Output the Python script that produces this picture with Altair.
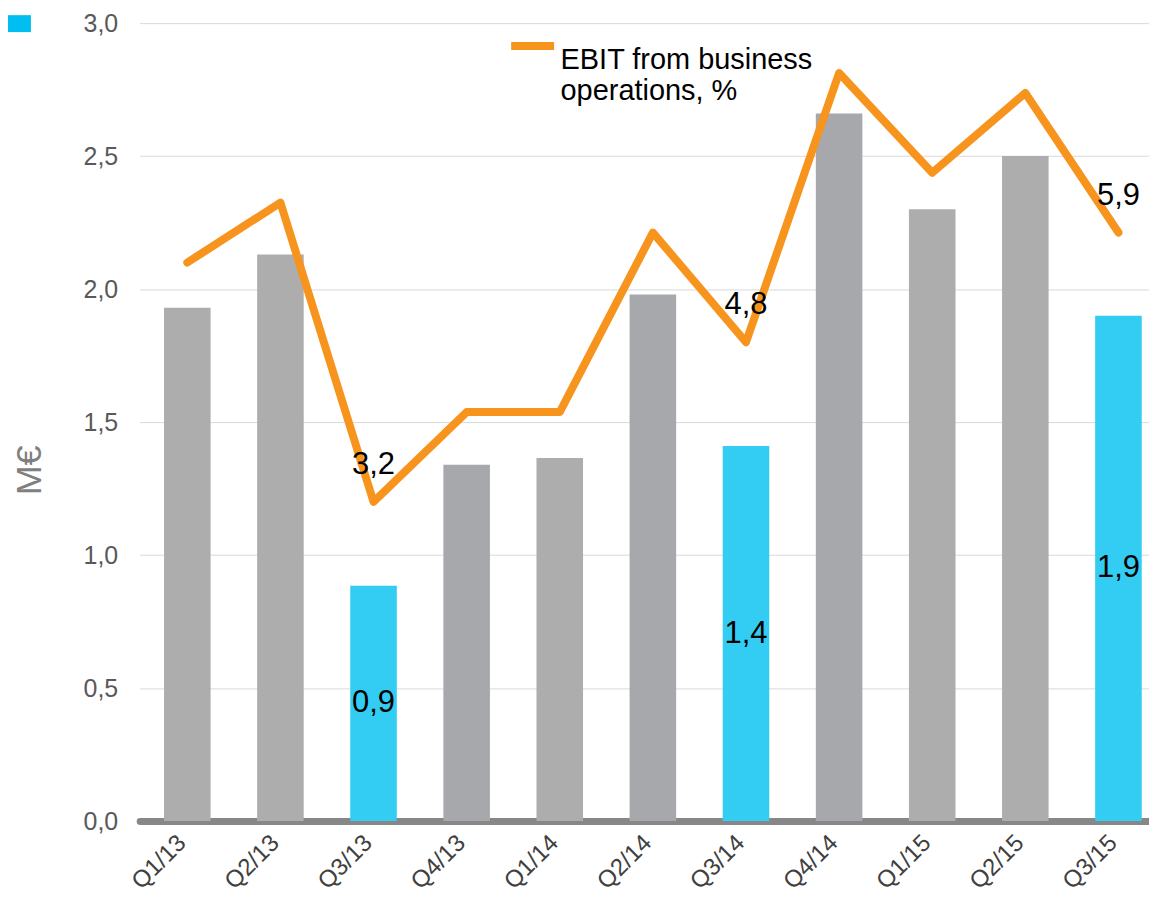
import altair as alt
import pandas as pd

quarters = ["Q1/13", "Q2/13", "Q3/13", "Q4/13", "Q1/14", "Q2/14",
            "Q3/14", "Q4/14", "Q1/15", "Q2/15", "Q3/15"]
ebit_meur = [1.93, 2.13, 0.885, 1.34, 1.365, 1.98, 1.41, 2.66, 2.30, 2.50, 1.90]
ebit_pct = [5.6, 6.2, 3.2, 4.1, 4.1, 5.9, 4.8, 7.5, 6.5, 7.3, 5.9]
bar_colors = ["#ADADAD", "#ADADAD", "#33CCF2", "#A7A8AC", "#ADADAD", "#A7A8AC",
              "#33CCF2", "#A7A8AC", "#ADADAD", "#ADADAD", "#33CCF2"]
bar_labels = ["", "", "0,9", "", "", "", "1,4", "", "", "", "1,9"]
pct_labels = ["", "", "3,2", "", "", "", "4,8", "", "", "", "5,9"]
series_name = "EBIT from business operations, %"

df = pd.DataFrame({
    "quarter": quarters,
    "meur": ebit_meur,
    "pct": ebit_pct,
    "color": bar_colors,
    "bar_label": bar_labels,
    "pct_label": pct_labels,
    "series": series_name,
})

FONT = "Liberation Sans"

xscale = alt.Scale(domain=quarters, paddingInner=0.5, paddingOuter=0.17, align=0.77)
x_axis = alt.Axis(
    title=None, labelAngle=-45, labelAlign="right", labelBaseline="middle",
    labelFontSize=24, labelColor="#404040", labelFont=FONT,
    ticks=False, grid=False, domain=True, domainColor="#878787", domainWidth=7,
    domainCap="round", labelPadding=18, labelOffset=-5,
)
y_left = alt.Scale(domain=[0, 3], nice=False, zero=True)
y_right = alt.Scale(domain=[0, 8], nice=False, zero=True)

y_axis = alt.Axis(
    title="M€", titleFontSize=36, titleColor="#7F7F7F", titleFont=FONT,
    titleFontWeight="normal", titleX=-110, titleY=448,
    values=[0, 0.5, 1, 1.5, 2, 2.5, 3],
    labelExpr="replace(format(datum.value, '.1f'), '.', ',')",
    labelFontSize=25, labelColor="#595959", labelFont=FONT, labelPadding=22,
    ticks=False, domain=False, grid=True, gridColor="#D9D9D9", gridWidth=1,
)

X = alt.X("quarter:N", scale=xscale, axis=x_axis, sort=quarters)
YL_bar = alt.Y("meur:Q", scale=y_left, axis=y_axis)
YL_mid = alt.Y("mid:Q", scale=y_left, axis=y_axis)
YR = alt.Y("pct:Q", scale=y_right, axis=None)

base = alt.Chart(df)

bars = base.mark_bar().encode(
    x=X, y=YL_bar, color=alt.Color("color:N", scale=None),
)

bar_text = base.transform_calculate(mid="datum.meur / 2").mark_text(
    fontSize=31, font=FONT, color="#000000", baseline="middle", align="center"
).encode(x=X, y=YL_mid, text="bar_label:N")

left = alt.layer(bars, bar_text)

line = base.mark_line(strokeWidth=8, strokeCap="round", strokeJoin="round").encode(
    x=X, y=YR,
    color=alt.Color(
        "series:N",
        scale=alt.Scale(domain=[series_name], range=["#F7941E"]),
        legend=alt.Legend(
            title=None, orient="none", legendX=368, legendY=-3,
            symbolType="stroke", symbolSize=1850, symbolStrokeWidth=8,
            labelFontSize=29, labelFont=FONT, labelColor="#000000",
            labelLimit=0, labelOffset=2,
            labelExpr="['EBIT from business', 'operations, %']",
            labelBaseline="top",
        ),
    ),
)

line_text = base.mark_text(
    fontSize=31, font=FONT, color="#000000", baseline="middle", align="center", dy=-37
).encode(x=X, y=YR, text="pct_label:N")

right = alt.layer(line, line_text)

# small cropped legend swatch at the top-left corner of the original slide
swatch = alt.Chart(pd.DataFrame({"k": [0]})).mark_rect(color="#00BFF0").encode(
    x=alt.value(-132), x2=alt.value(-109), y=alt.value(-8), y2=alt.value(9)
)

chart = alt.layer(left, right, swatch).resolve_scale(y="independent").properties(
    width=1012, height=800,
    autosize=alt.AutoSizeParams(type="none"),
    padding={"left": 132, "top": 14, "right": 0, "bottom": 75},
).configure_view(stroke=None).configure_axisLeft(titleAngle=270, titleAlign="center", titleBaseline="middle")

chart.save("out.html", embed_options={"renderer": "svg", "actions": False})
